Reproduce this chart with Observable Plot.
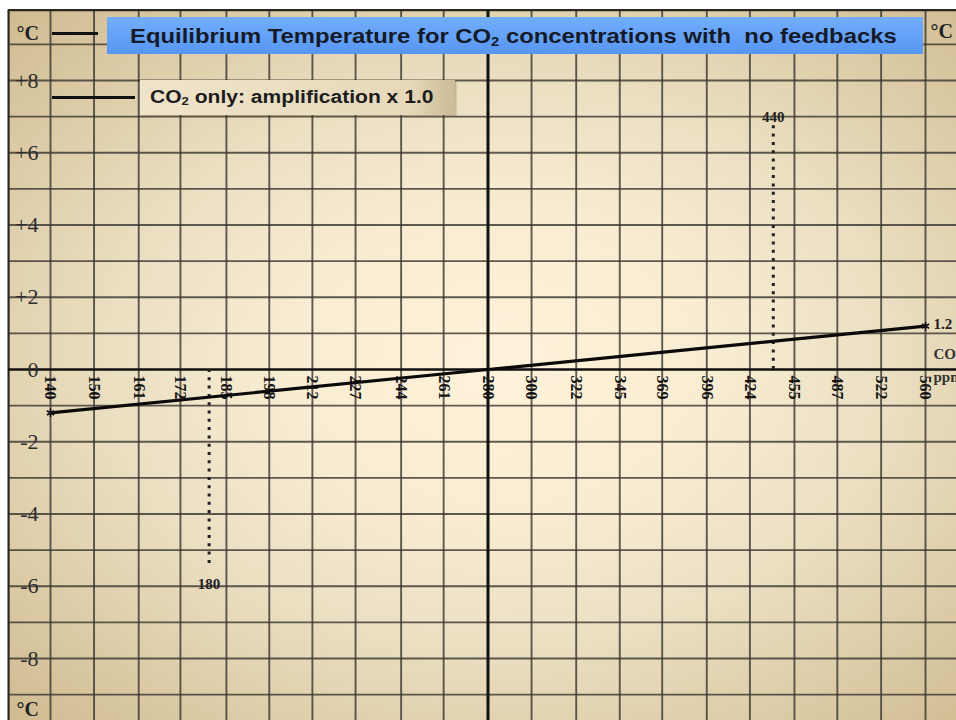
<!DOCTYPE html>
<html>
<head>
<meta charset="utf-8">
<script src="https://cdn.jsdelivr.net/npm/d3@7"></script>
<script src="https://cdn.jsdelivr.net/npm/@observablehq/plot@0.6"></script>
<style>
  html, body { margin: 0; padding: 0; background: white; overflow: hidden; }
  #wrap { position: relative; width: 956px; height: 720px; }
  #wrap svg { display: block; }
  .ov { position: absolute; overflow: hidden; }
  #title {
    left: 107px; top: 17px; width: 816px; height: 37px;
    background: linear-gradient(#72aefb, #5796f3);
    font: bold 21px "Liberation Sans", Arial, sans-serif; color: #151a28;
    line-height: 37px; padding-left: 23px; box-sizing: border-box; white-space: pre;
  }
  #legend {
    left: 140px; top: 80px; width: 315px; height: 35px;
    background: linear-gradient(to right, #efe4ca, #e7d9ba 85%, #cbbb96);
    box-shadow: 1px 1px 2px rgba(120,100,60,0.5);
    font: bold 18px "Liberation Sans", Arial, sans-serif; color: #1d1d1d;
    line-height: 35px; padding-left: 10px; box-sizing: border-box; white-space: pre;
  }
  .stretch { display: inline-block; transform-origin: 0 50%; }
  #title .stretch { transform: scaleX(1.135); }
  #legend .stretch { transform: scaleX(1.17); }
  sub { font-size: 0.62em; vertical-align: -0.2em; line-height: 0; }
  .swatch { position: absolute; height: 3px; background: #111; }
</style>
</head>
<body>
<div id="wrap"></div>
<script>
// ---- data ----
const xTicks = [140, 150, 161, 172, 185, 198, 212, 227, 244, 261, 280, 300, 322, 345, 369, 396, 424, 455, 487, 522, 560];
const gridTemps = [-9, -8, -7, -6, -5, -4, -3, -2, -1, 1, 2, 3, 4, 5, 6, 7, 8, 9];
const yLabelValues = [8, 6, 4, 2, 0, -2, -4, -6, -8];
const yLabelText = ["+8", "+6", "+4", "+2", "0", "-2", "-4", "-6", "-8"];
const co2 = [140, 280, 560];
const tempNoFeedback = [-1.2, 0, 1.2];
const markerCO2 = [440, 180];
const markerReach = [6.75, -5.45];
const markerLabel = ["440", "180"];
const endLabel = ["1.2"];
const unitLabels = ["CO\u2082", "ppm"];
const titleText = "Equilibrium Temperature for CO<sub>2</sub> concentrations with  no feedbacks";
const legendText = "CO<sub>2</sub> only: amplification x 1.0";

// chart frame (edges of the graph paper)
const frameLeftCO2 = 131, frameRightCO2 = 620, frameTopT = 9.95, frameBottomT = -9.72;

const lineData = co2.map((c, i) => ({co2: c, temp: tempNoFeedback[i]}));
const markers = markerCO2.map((c, i) => ({co2: c, reach: markerReach[i], label: markerLabel[i]}));
const yLabels = yLabelValues.map((v, i) => ({v, t: yLabelText[i]}));

const serif = "'Liberation Serif', 'Times New Roman', serif";
const gridStroke = "#37342f";

const plot = Plot.plot({
  width: 956, height: 720,
  marginLeft: 0, marginRight: 0, marginTop: 0, marginBottom: 0,
  x: {type: "log", domain: [140, 560], range: [50, 925], axis: null},
  y: {domain: [-9.716, 10], range: [720, 7.75], axis: null},
  style: {
    background: "radial-gradient(ellipse farthest-corner at 52% 50%, #fff2da 0%, #f8ecd2 30%, #ece0c3 55%, #dccba6 80%, #cfbb91 100%) 8px 10px / 948px 710px no-repeat, white",
    overflow: "hidden"
  },
  marks: [
    // graph paper grid
    Plot.ruleX(xTicks, {x: d => d, y1: frameTopT, y2: frameBottomT, stroke: gridStroke, strokeOpacity: 0.8, strokeWidth: 1.9}),
    Plot.ruleY(gridTemps, {y: d => d, x1: frameLeftCO2, x2: frameRightCO2, stroke: gridStroke, strokeOpacity: 0.8, strokeWidth: 1.9}),
    // paper border
    Plot.ruleX([frameLeftCO2], {x: d => d, y1: frameTopT, y2: frameBottomT, stroke: "#2a2722", strokeWidth: 2.2}),
    Plot.ruleY([frameTopT], {y: d => d, x1: frameLeftCO2, x2: frameRightCO2, stroke: "#2a2722", strokeWidth: 2.2}),
    // main axes
    Plot.ruleY([0], {y: d => d, x1: frameLeftCO2, x2: frameRightCO2, stroke: "#111", strokeWidth: 2.6}),
    Plot.ruleX([280], {x: d => d, y1: frameTopT, y2: frameBottomT, stroke: "#111", strokeWidth: 3}),
    // dotted markers
    Plot.ruleX(markers, {x: "co2", y1: 0, y2: "reach", stroke: "#222", strokeWidth: 3, strokeDasharray: "3,5.3"}),
    Plot.text(markers, {x: "co2", y: "reach", text: "label", fontFamily: serif, fontWeight: "bold", fontSize: 15, fill: "#222"}),
    // y labels
    Plot.text(yLabels, {y: "v", text: "t", frameAnchor: "left", dx: 38, textAnchor: "end", lineAnchor: "middle", fontFamily: serif, fontSize: 22, fill: "#2e2e2e"}),
    // unit labels
    Plot.text(["°C"], {frameAnchor: "top-left", dx: 16, dy: 33, textAnchor: "start", lineAnchor: "middle", fontFamily: serif, fontWeight: "bold", fontSize: 20, fill: "#222"}),
    Plot.text(["°C"], {frameAnchor: "bottom-left", dx: 16, dy: -11, textAnchor: "start", lineAnchor: "middle", fontFamily: serif, fontWeight: "bold", fontSize: 20, fill: "#222"}),
    Plot.text(["°C"], {frameAnchor: "top-right", dx: -26, dy: 31, textAnchor: "start", lineAnchor: "middle", fontFamily: serif, fontWeight: "bold", fontSize: 20, fill: "#222"}),
    // x tick labels (rotated)
    Plot.text(xTicks, {x: d => d, y: 0, text: d => String(d), rotate: 90, textAnchor: "start", lineAnchor: "middle", dy: 6, fontFamily: serif, fontWeight: "bold", fontSize: 16, fill: "#141414"}),
    // x unit labels at the axis end
    Plot.text([unitLabels[0]], {x: () => 560, y: () => 0, text: d => d, dx: 8, dy: -15, textAnchor: "start", lineAnchor: "middle", fontFamily: serif, fontWeight: "bold", fontSize: 15, fill: "#333"}),
    Plot.text([unitLabels[1]], {x: () => 560, y: () => 0, text: d => d, dx: 8, dy: 8, textAnchor: "start", lineAnchor: "middle", fontFamily: serif, fontWeight: "bold", fontSize: 15, fill: "#333"}),
    // data line
    Plot.line(lineData, {x: "co2", y: "temp", stroke: "#0a0a0a", strokeWidth: 3.2}),
    Plot.dot([lineData[0], lineData[lineData.length - 1]], {x: "co2", y: "temp", symbol: "asterisk", r: 4, stroke: "#111", strokeWidth: 1.6}),
    Plot.text([lineData[lineData.length - 1]], {x: "co2", y: "temp", text: () => endLabel[0], dx: 8, dy: -2, textAnchor: "start", lineAnchor: "middle", fontFamily: serif, fontWeight: "bold", fontSize: 15, fill: "#222"})
  ]
});

const wrap = document.getElementById("wrap");
wrap.appendChild(plot);

// marker label offsets: 440 above its line, 180 below its line
d3.select(plot).selectAll("text").each(function () {
  const t = this.textContent;
  if (t === "440") d3.select(this).attr("dy", "-0.55em");
  if (t === "180") d3.select(this).attr("dy", "1.2em");
});

// overlays: title and legend
const title = document.createElement("div");
title.className = "ov"; title.id = "title";
title.innerHTML = '<span class="stretch">' + titleText + '</span>';
wrap.appendChild(title);
const legend = document.createElement("div");
legend.className = "ov"; legend.id = "legend";
legend.innerHTML = '<span class="stretch">' + legendText + '</span>';
wrap.appendChild(legend);
const sw1 = document.createElement("div");
sw1.className = "swatch"; sw1.style.cssText = "left:52px;top:32px;width:46px;";
wrap.appendChild(sw1);
const sw2 = document.createElement("div");
sw2.className = "swatch"; sw2.style.cssText = "left:52px;top:96px;width:83px;";
wrap.appendChild(sw2);
</script>
</body>
</html>
